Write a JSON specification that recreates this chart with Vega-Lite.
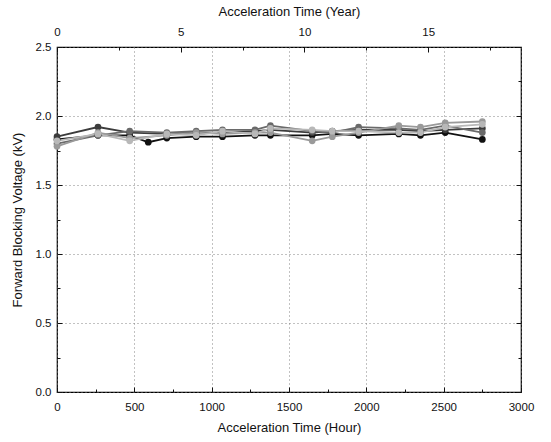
{
  "$schema": "https://vega.github.io/schema/vega-lite/v6.json",
  "width": 464,
  "height": 345,
  "autosize": {"type": "none"},
  "padding": {"left": 57, "top": 47, "right": 30, "bottom": 50},
  "config": {
    "view": {"stroke": "black", "strokeWidth": 1.2},
    "axis": {
      "labelFont": "Liberation Sans",
      "titleFont": "Liberation Sans",
      "labelFontSize": 11.5,
      "titleFontSize": 13,
      "titleFontWeight": "normal",
      "labelColor": "#111",
      "titleColor": "#111",
      "domain": false,
      "tickColor": "#111"
    }
  },
  "data": {
    "values": [
      {"series": "A", "hours": 0, "kV": 1.83},
      {"series": "A", "hours": 265, "kV": 1.86},
      {"series": "A", "hours": 470, "kV": 1.86},
      {"series": "A", "hours": 590, "kV": 1.81},
      {"series": "A", "hours": 710, "kV": 1.84},
      {"series": "A", "hours": 900, "kV": 1.85},
      {"series": "A", "hours": 1070, "kV": 1.85},
      {"series": "A", "hours": 1280, "kV": 1.86},
      {"series": "A", "hours": 1380, "kV": 1.86},
      {"series": "A", "hours": 1650, "kV": 1.86},
      {"series": "A", "hours": 1780, "kV": 1.87},
      {"series": "A", "hours": 1950, "kV": 1.86},
      {"series": "A", "hours": 2210, "kV": 1.87},
      {"series": "A", "hours": 2350, "kV": 1.86},
      {"series": "A", "hours": 2510, "kV": 1.88},
      {"series": "A", "hours": 2750, "kV": 1.83},
      {"series": "B", "hours": 0, "kV": 1.85},
      {"series": "B", "hours": 265, "kV": 1.92},
      {"series": "B", "hours": 470, "kV": 1.88},
      {"series": "B", "hours": 710, "kV": 1.87},
      {"series": "B", "hours": 900, "kV": 1.88},
      {"series": "B", "hours": 1070, "kV": 1.88},
      {"series": "B", "hours": 1280, "kV": 1.89},
      {"series": "B", "hours": 1380, "kV": 1.9},
      {"series": "B", "hours": 1650, "kV": 1.88},
      {"series": "B", "hours": 1780, "kV": 1.89},
      {"series": "B", "hours": 1950, "kV": 1.9},
      {"series": "B", "hours": 2210, "kV": 1.9},
      {"series": "B", "hours": 2350, "kV": 1.89},
      {"series": "B", "hours": 2510, "kV": 1.9},
      {"series": "B", "hours": 2750, "kV": 1.91},
      {"series": "C", "hours": 0, "kV": 1.8},
      {"series": "C", "hours": 265, "kV": 1.86},
      {"series": "C", "hours": 470, "kV": 1.89},
      {"series": "C", "hours": 710, "kV": 1.88},
      {"series": "C", "hours": 900, "kV": 1.89},
      {"series": "C", "hours": 1070, "kV": 1.9},
      {"series": "C", "hours": 1280, "kV": 1.9},
      {"series": "C", "hours": 1380, "kV": 1.93},
      {"series": "C", "hours": 1650, "kV": 1.89},
      {"series": "C", "hours": 1780, "kV": 1.88},
      {"series": "C", "hours": 1950, "kV": 1.92},
      {"series": "C", "hours": 2210, "kV": 1.91},
      {"series": "C", "hours": 2350, "kV": 1.9},
      {"series": "C", "hours": 2510, "kV": 1.93},
      {"series": "C", "hours": 2750, "kV": 1.88},
      {"series": "D", "hours": 0, "kV": 1.78},
      {"series": "D", "hours": 265, "kV": 1.88},
      {"series": "D", "hours": 470, "kV": 1.84},
      {"series": "D", "hours": 710, "kV": 1.86},
      {"series": "D", "hours": 900, "kV": 1.88},
      {"series": "D", "hours": 1070, "kV": 1.87},
      {"series": "D", "hours": 1280, "kV": 1.88},
      {"series": "D", "hours": 1380, "kV": 1.88},
      {"series": "D", "hours": 1650, "kV": 1.82},
      {"series": "D", "hours": 1780, "kV": 1.85},
      {"series": "D", "hours": 1950, "kV": 1.88},
      {"series": "D", "hours": 2210, "kV": 1.93},
      {"series": "D", "hours": 2350, "kV": 1.92},
      {"series": "D", "hours": 2510, "kV": 1.95},
      {"series": "D", "hours": 2750, "kV": 1.96},
      {"series": "E", "hours": 0, "kV": 1.82},
      {"series": "E", "hours": 265, "kV": 1.87},
      {"series": "E", "hours": 470, "kV": 1.82},
      {"series": "E", "hours": 710, "kV": 1.87},
      {"series": "E", "hours": 900, "kV": 1.86},
      {"series": "E", "hours": 1070, "kV": 1.89},
      {"series": "E", "hours": 1280, "kV": 1.87},
      {"series": "E", "hours": 1380, "kV": 1.91},
      {"series": "E", "hours": 1650, "kV": 1.9},
      {"series": "E", "hours": 1780, "kV": 1.89},
      {"series": "E", "hours": 1950, "kV": 1.89},
      {"series": "E", "hours": 2210, "kV": 1.88},
      {"series": "E", "hours": 2350, "kV": 1.88},
      {"series": "E", "hours": 2510, "kV": 1.92},
      {"series": "E", "hours": 2750, "kV": 1.94}
    ]
  },
  "layer": [
    {
      "mark": {"type": "line", "strokeWidth": 1.8},
      "encoding": {
        "x": {
          "field": "hours", "type": "quantitative",
          "scale": {"domain": [0, 3000], "nice": false, "zero": true},
          "axis": {
            "orient": "bottom", "title": "Acceleration Time (Hour)",
            "values": [0, 500, 1000, 1500, 2000, 2500, 3000],
            "format": "d", "grid": true, "gridDash": [1, 3], "gridColor": "#777", "gridWidth": 0.9,
            "tickSize": -5, "labelPadding": 14, "titlePadding": 9, "labelFlush": false
          }
        },
        "y": {
          "field": "kV", "type": "quantitative",
          "scale": {"domain": [0, 2.5], "nice": false},
          "axis": {
            "orient": "left", "title": "Forward Blocking Voltage (kV)",
            "values": [0, 0.5, 1, 1.5, 2, 2.5],
            "format": ".1f", "grid": true, "gridDash": [1, 3], "gridColor": "#777", "gridWidth": 0.9,
            "tickSize": -5, "labelPadding": 11, "titlePadding": 11, "labelFlush": false
          }
        },
        "color": {
          "field": "series", "type": "nominal",
          "scale": {"domain": ["A", "B", "C", "D", "E"], "range": ["#111111", "#3c3c3c", "#6a6a6a", "#9a9a9a", "#b8b8b8"]},
          "legend": null
        }
      }
    },
    {
      "mark": {"type": "circle", "size": 45, "opacity": 1},
      "encoding": {
        "x": {
          "field": "hours", "type": "quantitative",
          "axis": {
            "orient": "top", "title": "Acceleration Time (Year)",
            "values": [0, 800, 1600, 2400],
            "labelExpr": "format(datum.value / 160, 'd')",
            "grid": false, "tickSize": -5, "labelPadding": 15, "titlePadding": 8, "labelFlush": false
          }
        },
        "y": {
          "field": "kV", "type": "quantitative",
          "axis": {
            "orient": "right", "title": null, "labels": false,
            "values": [0, 0.5, 1, 1.5, 2, 2.5], "grid": false, "tickSize": -5
          }
        },
        "color": {"field": "series", "type": "nominal", "legend": null}
      }
    },
    {
      "mark": {"type": "point", "opacity": 0},
      "encoding": {
        "x": {
          "field": "hours", "type": "quantitative",
          "axis": {
            "orient": "bottom", "title": null, "labels": false, "grid": false,
            "values": [250, 750, 1250, 1750, 2250, 2750], "tickSize": -3
          }
        },
        "y": {
          "field": "kV", "type": "quantitative",
          "axis": {
            "orient": "left", "title": null, "labels": false, "grid": false,
            "values": [0.25, 0.75, 1.25, 1.75, 2.25], "tickSize": -3
          }
        }
      }
    },
    {
      "mark": {"type": "point", "opacity": 0},
      "encoding": {
        "x": {
          "field": "hours", "type": "quantitative",
          "axis": {
            "orient": "top", "title": null, "labels": false, "grid": false,
            "values": [400, 1200, 2000, 2800], "tickSize": -3
          }
        },
        "y": {
          "field": "kV", "type": "quantitative",
          "axis": {
            "orient": "right", "title": null, "labels": false, "grid": false,
            "values": [0.25, 0.75, 1.25, 1.75, 2.25], "tickSize": -3
          }
        }
      }
    }
  ],
  "resolve": {"axis": {"x": "independent", "y": "independent"}}
}
